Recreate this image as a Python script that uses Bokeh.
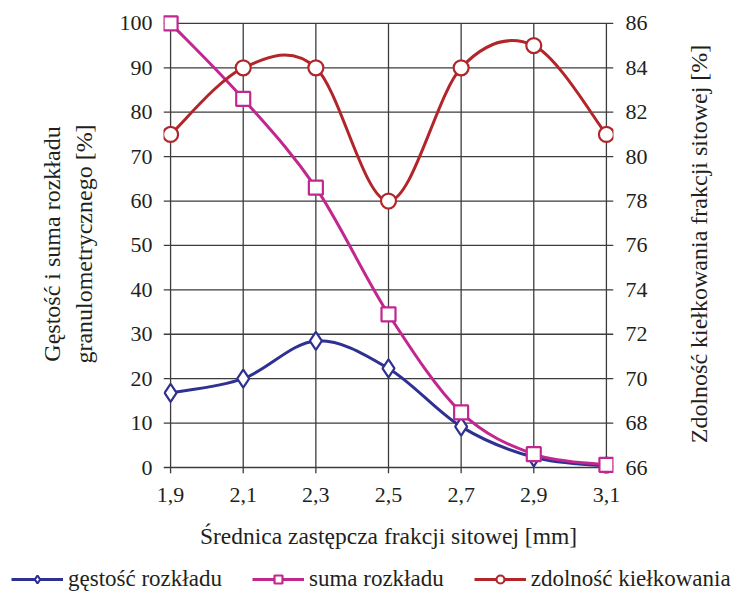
from bokeh.plotting import figure
from bokeh.layouts import column, row
from bokeh.models import Range1d, LinearAxis, FixedTicker, Legend, LegendItem
from bokeh.embed import file_html
from bokeh.resources import INLINE

# ---- data ----
x_values = [1.9, 2.1, 2.3, 2.5, 2.7, 2.9, 3.1]
x_labels = ["1,9", "2,1", "2,3", "2,5", "2,7", "2,9", "3,1"]
gestosc = [16.8, 20.0, 28.5, 22.3, 9.2, 2.3, 0.3]
suma = [100.0, 83.0, 63.0, 34.5, 12.4, 3.0, 0.6]
zdolnosc = [81, 84, 84, 78, 84, 85, 81]
left_ticks = [0, 10, 20, 30, 40, 50, 60, 70, 80, 90, 100]
right_ticks = [66, 68, 70, 72, 74, 76, 78, 80, 82, 84, 86]
series_names = ["gęstość rozkładu", "suma rozkładu", "zdolność kiełkowania"]

FONT = "'Liberation Serif', 'Times New Roman', serif"
BLUE = "#2e3192"
MAGENTA = "#c2268f"
RED = "#b2262b"
GRID = "#3c3c3c"
TXT = "#231f20"

x0, x1 = x_values[0], x_values[-1]
y0, y1 = left_ticks[0], left_ticks[-1]
r0, r1 = right_ticks[0], right_ticks[-1]
dx = 0.0195   # tick stub length in data units
dyb = 1.35
dyt = 2.0
scale = (r1 - r0) / (y1 - y0)

p = figure(width=680, height=553, output_backend="svg", toolbar_location=None,
           x_range=Range1d(x0 - dx, x1 + dx),
           y_range=Range1d(y0 - dyb, y1 + dyt),
           min_border_left=163, min_border_right=67,
           min_border_top=14, min_border_bottom=80)
p.frame_align = False
p.extra_y_ranges = {"right": Range1d(r0 - dyb * scale, r1 + dyt * scale)}
p.outline_line_color = None
p.xgrid.visible = False
p.ygrid.visible = False
p.background_fill_color = "white"
p.border_fill_color = "white"

# grid lines (including tick stubs)
p.segment(x0=[x0 - dx] * len(left_ticks), y0=left_ticks,
          x1=[x1 + dx] * len(left_ticks), y1=left_ticks,
          line_color=GRID, line_width=1.3)
p.segment(x0=x_values, y0=[y0 - dyb] * len(x_values),
          x1=x_values, y1=[y1] * len(x_values),
          line_color=GRID, line_width=1.3)


def smooth(xs, ys):
    n = len(xs)
    out = dict(x0=[], y0=[], x1=[], y1=[], cx0=[], cy0=[], cx1=[], cy1=[])
    for i in range(n - 1):
        pxm, pym = (xs[i - 1], ys[i - 1]) if i > 0 else (xs[i], ys[i])
        pxp, pyp = (xs[i + 2], ys[i + 2]) if i + 2 < n else (xs[i + 1], ys[i + 1])
        out["x0"].append(xs[i]); out["y0"].append(ys[i])
        out["x1"].append(xs[i + 1]); out["y1"].append(ys[i + 1])
        out["cx0"].append(xs[i] + (xs[i + 1] - pxm) / 6)
        out["cy0"].append(ys[i] + (ys[i + 1] - pym) / 6)
        out["cx1"].append(xs[i + 1] - (pxp - xs[i]) / 6)
        out["cy1"].append(ys[i + 1] - (pyp - ys[i]) / 6)
    return out


LW = 3
MLW = 2.2
p.bezier(**smooth(x_values, gestosc), line_color=BLUE, line_width=LW)
p.bezier(**smooth(x_values, suma), line_color=MAGENTA, line_width=LW)
p.bezier(**smooth(x_values, zdolnosc), line_color=RED, line_width=LW,
         y_range_name="right")

p.scatter(x_values, gestosc, marker="diamond", size=18, line_color=BLUE,
          fill_color="white", line_width=MLW)
p.scatter(x_values, suma, marker="square", size=14, line_color=MAGENTA,
          fill_color="white", line_width=MLW)
p.scatter(x_values, zdolnosc, marker="circle", size=15, line_color=RED,
          fill_color="white", line_width=MLW, y_range_name="right")

# axes
p.xaxis.ticker = FixedTicker(ticks=x_values)
p.xaxis.major_label_overrides = {v: l for v, l in zip(x_values, x_labels)}
p.yaxis.ticker = FixedTicker(ticks=left_ticks)

right_axis = LinearAxis(y_range_name="right", ticker=FixedTicker(ticks=right_ticks))
p.add_layout(right_axis, "right")


def style_axis(ax, label_size):
    ax.axis_line_color = None
    ax.major_tick_line_color = None
    ax.minor_tick_line_color = None
    ax.major_tick_out = 0
    ax.major_tick_in = 0
    ax.major_label_text_font = FONT
    ax.major_label_text_font_size = "22px"
    ax.major_label_text_color = TXT
    ax.axis_label_text_font = FONT
    ax.axis_label_text_font_size = label_size
    ax.axis_label_text_font_style = "normal"
    ax.axis_label_text_color = TXT


style_axis(p.xaxis[0], "23.5px")
style_axis(p.yaxis[0], "24px")
style_axis(right_axis, "24px")

p.xaxis.axis_label = "Średnica zastępcza frakcji sitowej [mm]"
p.xaxis.major_label_standoff = 14
p.xaxis.axis_label_standoff = 18
p.yaxis[0].axis_label = "Gęstość i suma rozkładu\ngranulometrycznego [%]"
p.yaxis[0].major_label_standoff = 11
p.yaxis[0].axis_label_standoff = 20
right_axis.major_label_standoff = 12

# ---- right-hand axis title strip (text reads bottom-to-top) ----
r = figure(width=60, height=553, output_backend="svg", toolbar_location=None,
           x_range=Range1d(0, 1), y_range=Range1d(0, 1),
           x_axis_location=None, y_axis_location="left",
           min_border_left=31, min_border_right=0,
           min_border_top=14, min_border_bottom=80)
r.frame_align = False
r.outline_line_color = None
r.xgrid.visible = False
r.ygrid.visible = False
r.yaxis.ticker = FixedTicker(ticks=[])
style_axis(r.yaxis[0], "24px")
r.yaxis.major_label_standoff = 0
r.yaxis.axis_label_standoff = 0
r.yaxis.axis_label = "Zdolność kiełkowania frakcji sitowej [%]"

# ---- legend strip ----
q = figure(width=740, height=40, output_backend="svg", toolbar_location=None,
           x_range=Range1d(0, 1), y_range=Range1d(0, 1),
           x_axis_location=None, y_axis_location=None,
           min_border=0)
q.frame_align = False
q.outline_line_color = None
q.xgrid.visible = False
q.ygrid.visible = False
nan = float("nan")
items = []
for name, color, marker, size in zip(series_names, [BLUE, MAGENTA, RED],
                                     ["diamond", "square", "circle"], [18, 14, 15]):
    lr = q.line([nan], [nan], line_color=color, line_width=LW)
    sr = q.scatter([nan], [nan], marker=marker, size=size, line_color=color,
                   fill_color="white", line_width=MLW)
    items.append(LegendItem(label=name, renderers=[lr, sr]))

legend = Legend(items=items, orientation="horizontal", location=(11, 1))
legend.label_text_font = FONT
legend.label_text_font_size = "23px"
legend.label_text_color = TXT
legend.glyph_width = 52
legend.glyph_height = 20
legend.label_standoff = 5
legend.spacing = 30
legend.padding = 0
legend.margin = 0
legend.border_line_color = None
legend.background_fill_alpha = 0
q.add_layout(legend, "center")

layout = column(row(p, r, spacing=0), q, spacing=0)
open("out.html", "w").write(file_html(layout, INLINE))
